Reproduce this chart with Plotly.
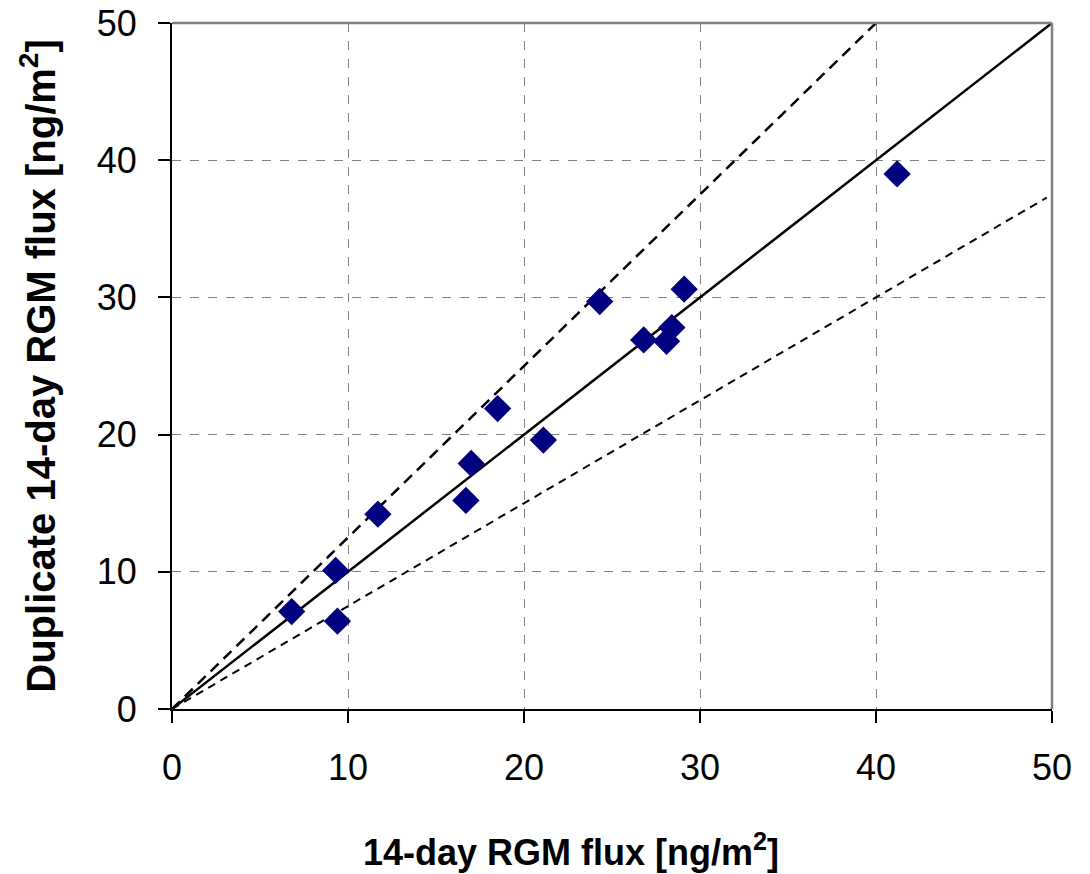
import plotly.graph_objects as go

# Measured data points (14-day RGM flux vs duplicate)
flux_x = [6.8, 9.3, 9.4, 11.7, 16.7, 17.0, 18.5, 21.1, 24.3, 26.8, 28.1, 28.4, 29.1, 41.2]
flux_dup = [7.1, 10.1, 6.4, 14.2, 15.2, 17.9, 21.9, 19.6, 29.7, 26.9, 26.8, 27.8, 30.6, 39.0]

# Reference lines: 1:1, +25 %, -25 %
one_to_one_x = [0, 50]
upper_x = [0, 40]
lower_x = [0, 49.7]
slope_one = 1.0
slope_upper = 1.25
slope_lower = 0.75

tick_vals = [0, 10, 20, 30, 40, 50]
tick_text = ["0", "10", "20", "30", "40", "50"]

x_title = "<b>14-day RGM flux [ng/m<sup>2</sup>]</b>"
y_title = "<b>Duplicate 14-day RGM flux [ng/m<sup>2</sup>]</b>"

FONT = "Liberation Sans, Arial, sans-serif"

fig = go.Figure()

fig.add_trace(go.Scatter(
    x=upper_x, y=[v * slope_upper for v in upper_x], mode="lines",
    line=dict(color="black", width=2.5, dash="11px,7px"), hoverinfo="skip"))
fig.add_trace(go.Scatter(
    x=lower_x, y=[v * slope_lower for v in lower_x], mode="lines",
    line=dict(color="black", width=2, dash="8px,6px"), hoverinfo="skip"))
fig.add_trace(go.Scatter(
    x=one_to_one_x, y=[v * slope_one for v in one_to_one_x], mode="lines",
    line=dict(color="black", width=2.5), hoverinfo="skip"))
fig.add_trace(go.Scatter(
    x=flux_x, y=flux_dup, mode="markers",
    marker=dict(symbol="diamond", size=21, color="#000080", line=dict(width=0))))

axis_common = dict(
    range=[0, 50], tickvals=tick_vals, ticktext=tick_text,
    showgrid=True, gridcolor="#808080", gridwidth=1.2, griddash="dash",
    zeroline=False, showline=True, linecolor="black", linewidth=2,
    ticks="outside", ticklen=12, tickwidth=1.5, tickcolor="black",
    tickfont=dict(family=FONT, size=36, color="black"),
    ticklabelstandoff=14, ticklabeloverflow="allow",
    fixedrange=True,
)

fig.update_xaxes(**axis_common)
fig.update_yaxes(**axis_common,
                 title=dict(text=y_title,
                            font=dict(family=FONT, size=40, color="black"),
                            standoff=29))

# x-axis title (offset to the left as in the original)
fig.add_annotation(text=x_title, xref="paper", yref="paper",
                   x=0.453, y=-0.206, xanchor="center", yanchor="middle",
                   showarrow=False,
                   font=dict(family=FONT, size=36, color="black"))

# gray top and right frame
fig.add_shape(type="line", xref="paper", yref="paper", x0=0, x1=1, y0=1, y1=1,
              line=dict(color="#808080", width=2.5))
fig.add_shape(type="line", xref="paper", yref="paper", x0=1, x1=1, y0=0, y1=1,
              line=dict(color="#808080", width=2.5))

fig.update_layout(
    width=1090, height=874,
    margin=dict(l=164, r=46, t=15, b=173, autoexpand=False),
    paper_bgcolor="white", plot_bgcolor="white",
    showlegend=False,
    font=dict(family=FONT, color="black"),
)

fig.write_html("out.html")
